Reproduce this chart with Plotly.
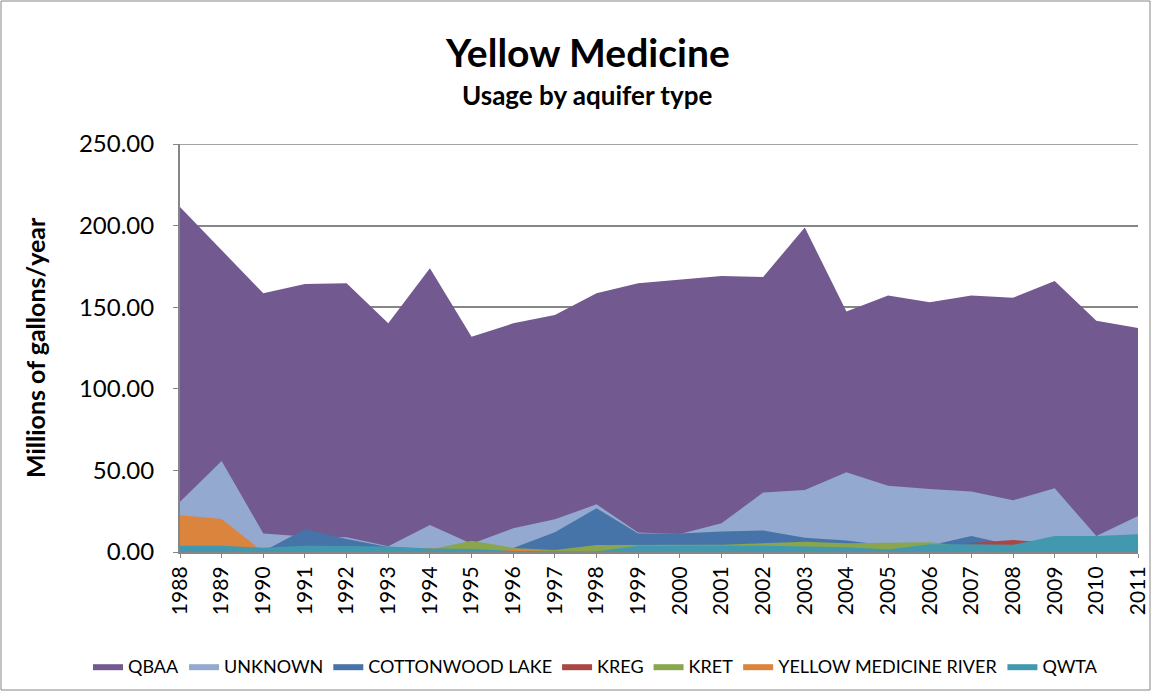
"""Yellow Medicine county water usage by aquifer type (overlapping area chart)."""

import plotly.graph_objects as go

years = list(range(1988, 2012))

qbaa = [211.4, 184.9, 158.5, 164.2, 164.6, 140.1, 173.8, 131.9, 140.1, 145.2, 158.5, 164.6,
        166.7, 169.1, 168.5, 198.9, 147.3, 157.1, 153.0, 157.1, 155.8, 166.1, 141.7, 137.3]
unknown = [30.8, 55.8, 11.4, 9.5, 9.0, 3.5, 16.5, 5.0, 14.5, 20.0, 29.2, 12.0,
           11.0, 17.6, 36.4, 38.0, 48.8, 40.6, 38.6, 37.0, 31.7, 39.0, 9.8, 22.0]
cottonwood = [0.0, 0.0, 0.5, 14.0, 8.0, 3.0, 2.0, 1.0, 2.5, 12.1, 26.8, 11.4,
              11.4, 12.5, 13.1, 8.8, 7.0, 4.0, 4.0, 9.8, 4.0, 4.0, 2.0, 2.0]
kreg = [0.0, 0.0, 0.0, 0.0, 0.0, 0.0, 0.0, 0.0, 0.0, 0.0, 0.0, 0.0,
        0.0, 0.0, 0.0, 0.0, 0.0, 0.0, 0.0, 5.5, 7.4, 5.5, 0.0, 0.0]
kret = [1.0, 1.0, 1.0, 1.0, 1.0, 1.0, 1.5, 6.9, 2.5, 1.2, 4.3, 4.3,
        4.2, 4.5, 5.3, 6.3, 5.3, 5.7, 5.9, 3.0, 3.0, 3.0, 3.0, 3.0]
ymr = [22.5, 20.2, 0.0, 0.0, 0.0, 0.0, 2.6, 0.0, 1.5, 0.5, 0.0, 0.0,
       0.0, 0.0, 0.0, 0.0, 0.0, 0.0, 0.0, 0.0, 0.0, 0.0, 0.0, 0.0]
qwta = [3.9, 3.9, 2.6, 3.9, 3.7, 3.3, 2.2, 1.8, 0.6, 0.3, 0.3, 3.9,
        3.9, 3.9, 3.9, 3.3, 2.9, 1.6, 4.7, 4.7, 4.4, 9.8, 9.8, 10.8]

series = [
    ("QBAA", qbaa, "#725990"),
    ("UNKNOWN", unknown, "#93a9cf"),
    ("COTTONWOOD LAKE", cottonwood, "#4674a8"),
    ("KREG", kreg, "#aa4643"),
    ("KRET", kret, "#89a54e"),
    ("YELLOW MEDICINE RIVER", ymr, "#db843d"),
    ("QWTA", qwta, "#4198af"),
]

FONT = "Lato, Open Sans, sans-serif"

# plot area in pixels: x 180..1138, y 144..552
PL, PR, PT, PB = 180, 1138, 144, 552


def px_x(px):
    return (px - PL) / (PR - PL)


def px_y(py):
    return (PB - py) / (PB - PT)


fig = go.Figure()
for name, vals, color in series:
    fig.add_trace(go.Scatter(
        x=years, y=vals, name=name, mode="lines",
        line={"width": 0, "color": color},
        fill="tozeroy", fillcolor=color,
    ))

fig.update_layout(
    width=1158, height=698,
    paper_bgcolor="white", plot_bgcolor="white",
    margin={"l": PL, "r": 1158 - PR, "t": PT, "b": 698 - PB, "autoexpand": False},
    font={"family": FONT, "color": "black"},
    legend={
        "orientation": "h", "x": px_x(88), "xanchor": "left",
        "y": px_y(648), "yanchor": "top",
        "font": {"size": 18, "family": FONT}, "itemwidth": 30,
    },
    showlegend=True,
)
fig.add_annotation(
    text="<b>Yellow Medicine</b>", xref="paper", yref="paper",
    x=px_x(587), y=px_y(52), xanchor="center", yanchor="middle",
    showarrow=False, font={"size": 39, "family": FONT},
)
fig.add_annotation(
    text="<b>Usage by aquifer type</b>", xref="paper", yref="paper",
    x=px_x(587), y=px_y(95), xanchor="center", yanchor="middle",
    showarrow=False, font={"size": 26, "family": FONT},
)
fig.add_annotation(
    text="<b>Millions of gallons/year</b>", xref="paper", yref="paper",
    x=px_x(35), y=px_y(348), xanchor="center", yanchor="middle", textangle=-90,
    showarrow=False, font={"size": 25, "family": FONT},
)
fig.update_xaxes(
    range=[1988, 2011], tickmode="array", tickvals=years, ticktext=[str(y) for y in years],
    tickangle=-90, tickfont={"size": 21}, showgrid=False, zeroline=False, automargin=False,
    showline=True, linecolor="#868686", linewidth=2, ticks="outside", tickcolor="#868686",
    ticklen=4,
)
fig.update_yaxes(
    range=[0, 250], tickvals=[0, 50, 100, 150, 200, 250], tickformat=".2f",
    tickfont={"size": 24}, showgrid=True, gridcolor="#868686", gridwidth=1.5,
    zeroline=False, showline=True, linecolor="#868686", linewidth=2, automargin=False,
    ticks="outside", tickcolor="#868686", ticklen=5, ticklabelstandoff=14,
)
# top gridline at 250 (plotly drops the one sitting on the plot edge)
fig.add_shape(
    type="line", xref="paper", yref="y", x0=0, x1=1, y0=250, y1=250,
    line={"color": "#868686", "width": 1.5}, layer="below",
)
fig.add_shape(
    type="rect", xref="paper", yref="paper",
    x0=px_x(1), x1=px_x(1150), y0=px_y(690), y1=px_y(1),
    line={"color": "#868686", "width": 1}, layer="below",
)

fig.write_html(
    "out.html",
    config={"displayModeBar": False},
    post_script="document.body.style.margin='0';",
)
